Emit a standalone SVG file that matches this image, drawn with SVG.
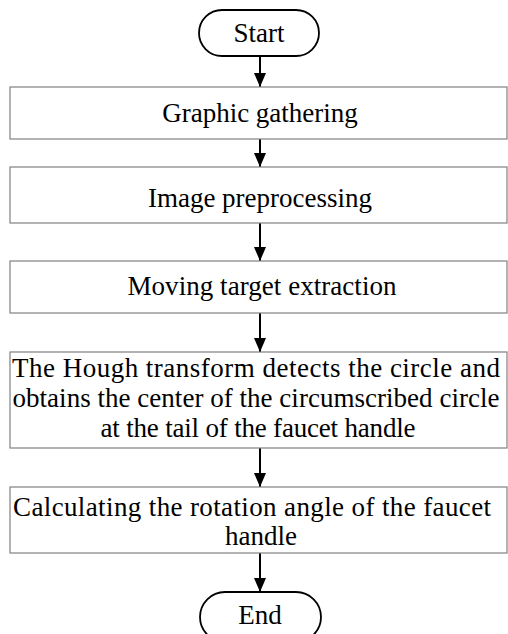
<svg xmlns="http://www.w3.org/2000/svg" width="508" height="634" viewBox="0 0 508 634">
<style>
.box{fill:#fff;stroke:#808080;stroke-width:1.2}
.term{fill:#fff;stroke:#000;stroke-width:1.8}
.t{font-family:"Liberation Serif","Times New Roman",serif;font-size:27px;fill:#000;text-anchor:middle}
.c{stroke:#000;stroke-width:2;fill:none}
</style>
<defs>
<marker id="ah" markerWidth="14" markerHeight="12" refX="14" refY="6" orient="auto" markerUnits="userSpaceOnUse" viewBox="0 0 14 12">
<path d="M0,0 L14,6 L0,12 Z" fill="#000"/>
</marker>
</defs>
<rect width="508" height="634" fill="#fff"/>
<g id="connectors">
<line class="c" x1="260" y1="56" x2="260" y2="87" marker-end="url(#ah)"/>
<line class="c" x1="260" y1="139" x2="260" y2="167" marker-end="url(#ah)"/>
<line class="c" x1="260" y1="223" x2="260" y2="261" marker-end="url(#ah)"/>
<line class="c" x1="260" y1="313" x2="260" y2="352" marker-end="url(#ah)"/>
<line class="c" x1="260" y1="448" x2="260" y2="487" marker-end="url(#ah)"/>
<line class="c" x1="260" y1="553" x2="260" y2="592" marker-end="url(#ah)"/>
</g>
<g id="start">
<rect class="term" x="199" y="10" width="120" height="46" rx="23"/>
<text class="t" x="259" y="42">Start</text>
</g>
<g id="graphic">
<rect class="box" x="10" y="87" width="497" height="52"/>
<text class="t" x="260" y="122">Graphic gathering</text>
</g>
<g id="preprocess">
<rect class="box" x="10" y="167" width="497" height="56"/>
<text class="t" x="260" y="207">Image preprocessing</text>
</g>
<g id="moving">
<rect class="box" x="10" y="261" width="497" height="52"/>
<text class="t" x="262" y="295" textLength="269" lengthAdjust="spacing">Moving target extraction</text>
</g>
<g id="hough">
<rect class="box" x="10" y="352" width="497" height="96"/>
<text class="t" x="256" y="377" textLength="488" lengthAdjust="spacing">The Hough transform detects the circle and</text>
<text class="t" x="256" y="407" textLength="487" lengthAdjust="spacing">obtains the center of the circumscribed circle</text>
<text class="t" x="258" y="437" textLength="315" lengthAdjust="spacing">at the tail of the faucet handle</text>
</g>
<g id="calc">
<rect class="box" x="10" y="487" width="497" height="66"/>
<text class="t" x="252" y="516" textLength="478" lengthAdjust="spacing">Calculating the rotation angle of the faucet</text>
<text class="t" x="261" y="545">handle</text>
</g>
<g id="end">
<rect class="term" x="200" y="592" width="121" height="50" rx="25"/>
<text class="t" x="260" y="624">End</text>
</g>
</svg>
